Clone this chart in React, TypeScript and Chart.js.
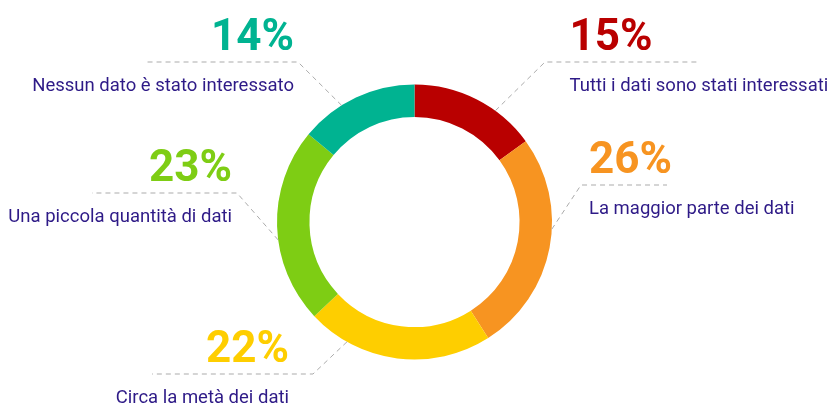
import React, { useEffect, useRef } from 'react';
import { Chart, registerables } from 'chart.js';

Chart.register(...registerables);

const categories = [
  'Tutti i dati sono stati interessati',
  'La maggior parte dei dati',
  'Circa la metà dei dati',
  'Una piccola quantità di dati',
  'Nessun dato è stato interessato',
];
const values = [15, 26, 22, 23, 14];
const colors = ['#B90000', '#F79421', '#FECE00', '#7ECD14', '#00B391'];

// callout layout relative to doughnut centre (styles / positions only)
const callouts = [
  { ringAngle: 36, elbowX: 130.5, elbowY: -160, endX: 282.5, textX: 155, align: 'left' },
  { ringAngle: 93, elbowX: 166.5, elbowY: -37, endX: 252.5, textX: 174.5, align: 'left' },
  { ringAngle: 209.4, elbowX: -101.5, elbowY: 152, endX: -262.5, textX: -125.5, align: 'right' },
  { ringAngle: 262.5, elbowX: -177.5, elbowY: -29, endX: -322.5, textX: -182.5, align: 'right' },
  { ringAngle: 328, elbowX: -116.5, elbowY: -160, endX: -267.5, textX: -120.5, align: 'right' },
];

const TEXT_COLOR = '#2E1A87';
const LINE_COLOR = '#ABABAB';

const calloutPlugin = {
  id: 'callouts',
  afterDraw(chart: any) {
    const meta = chart.getDatasetMeta(0);
    const arc0 = meta.data[0];
    if (!arc0) return;
    const cx = arc0.x;
    const cy = arc0.y;
    const r = arc0.outerRadius;
    const ctx = chart.ctx;
    const total = values.reduce((a, b) => a + b, 0);
    ctx.save();
    callouts.forEach((c, i) => {
      const a = (c.ringAngle * Math.PI) / 180;
      const sx = cx + r * Math.sin(a);
      const sy = cy - r * Math.cos(a);
      const ex = cx + c.elbowX;
      const ey = cy + c.elbowY;
      ctx.beginPath();
      ctx.setLineDash([5, 4]);
      ctx.strokeStyle = LINE_COLOR;
      ctx.lineWidth = 1;
      ctx.moveTo(sx, sy);
      ctx.lineTo(ex, ey);
      ctx.lineTo(cx + c.endX, ey);
      ctx.stroke();
      ctx.setLineDash([]);

      const tx = cx + c.textX;
      ctx.textAlign = c.align as CanvasTextAlign;
      ctx.textBaseline = 'alphabetic';
      ctx.fillStyle = colors[i];
      ctx.font = 'bold 44px Roboto';
      ctx.fillText(Math.round((values[i] / total) * 100) + '%', tx, ey - 12);
      ctx.fillStyle = TEXT_COLOR;
      ctx.font = '18.5px Roboto';
      ctx.fillText(categories[i], tx, ey + 29);
    });
    ctx.restore();
  },
};

export default function App() {
  const ref = useRef<HTMLCanvasElement>(null);
  useEffect(() => {
    const chart = new Chart(ref.current as HTMLCanvasElement, {
      type: 'doughnut',
      data: {
        labels: categories,
        datasets: [{ data: values, backgroundColor: colors, borderWidth: 0 }],
      },
      options: {
        responsive: false,
        animation: false,
        cutout: '76.4%',
        layout: { padding: { left: 277, right: 279, top: 84.5, bottom: 43.5 } },
        plugins: { legend: { display: false }, tooltip: { enabled: false } },
      },
      plugins: [calloutPlugin],
    } as any);
    return () => chart.destroy();
  }, []);
  return (
    <div style={{ position: 'fixed', left: 0, top: 0, width: 831, height: 403, background: '#fff' }}>
      <canvas ref={ref} width={831} height={403} style={{ display: 'block', width: 831, height: 403 }} />
    </div>
  );
}
